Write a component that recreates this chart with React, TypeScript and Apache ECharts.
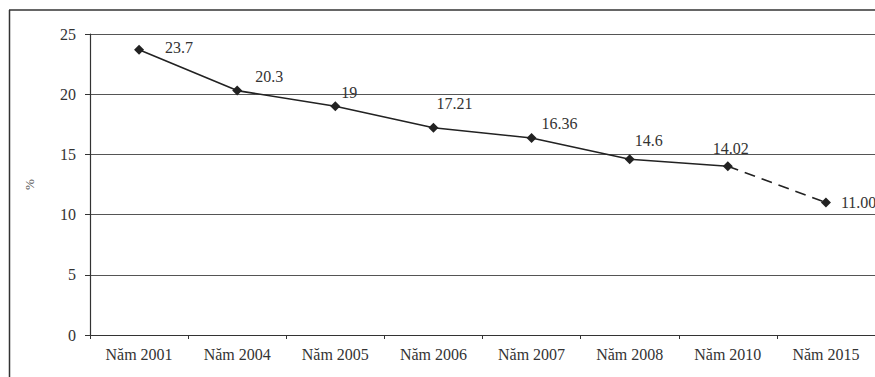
import React, { useEffect, useRef } from "react";
import * as echarts from "echarts";

const categories = ["Năm 2001", "Năm 2004", "Năm 2005", "Năm 2006", "Năm 2007", "Năm 2008", "Năm 2010", "Năm 2015"];
const actualValues = [23.7, 20.3, 19, 17.21, 16.36, 14.6, 14.02, null];
const forecastValues = [null, null, null, null, null, null, 14.02, 11.0];
const labelTexts = ["23.7", "20.3", "19", "17.21", "16.36", "14.6", "14.02", "11.00"];
const yTicks = [0, 5, 10, 15, 20, 25];

// label offsets (style only)
const labelOffsets: [number, number][] = [
  [16, -2], [8, -14], [-4, -14], [-7, -24], [0, -15], [-5, -19], [-25, -18], [5, 0],
];

const FONT = "Liberation Serif";
const INK = "#222";

export default function App() {
  const ref = useRef<HTMLDivElement>(null);
  useEffect(() => {
    const chart = echarts.init(ref.current!, null, { renderer: "svg" });
    const mkLabel = (i: number) => ({
      show: true,
      position: "right",
      offset: labelOffsets[i],
      formatter: () => labelTexts[i],
      fontFamily: FONT,
      fontSize: 16,
      color: "#333",
    });
    chart.setOption({
      animation: false,
      backgroundColor: "#fff",
      textStyle: { fontFamily: FONT },
      graphic: [
        { type: "line", shape: { x1: 9, y1: 10, x2: 875, y2: 10 }, style: { stroke: "#333", lineWidth: 1.5 } },
        { type: "line", shape: { x1: 9.5, y1: 10, x2: 9.5, y2: 377 }, style: { stroke: "#333", lineWidth: 1.5 } },
      ],
      grid: { left: 90, right: 0, top: 34, bottom: 42, containLabel: false },
      xAxis: {
        type: "category",
        data: categories,
        boundaryGap: true,
        axisLine: { lineStyle: { color: "#333", width: 1.2 } },
        axisTick: { show: true, length: 4, lineStyle: { color: "#333" } },
        axisLabel: { fontFamily: FONT, fontSize: 16, color: "#333", margin: 11 },
      },
      yAxis: {
        type: "value",
        min: yTicks[0],
        max: yTicks[yTicks.length - 1],
        interval: 5,
        name: "%",
        nameLocation: "middle",
        nameRotate: 90,
        nameGap: 54,
        nameTextStyle: { fontFamily: FONT, fontSize: 13, color: "#555" },
        axisLine: { show: true, lineStyle: { color: "#333", width: 1.2 } },
        axisTick: { show: true, length: 5, lineStyle: { color: "#333" } },
        axisLabel: { fontFamily: FONT, fontSize: 16, color: "#333", margin: 14 },
        splitLine: { show: true, lineStyle: { color: "#555", width: 1 } },
      },
      series: [
        {
          type: "line",
          data: actualValues.map((v, i) => (v == null ? null : { value: v, label: mkLabel(i) })),
          symbol: "diamond",
          symbolSize: 10,
          itemStyle: { color: INK },
          lineStyle: { color: INK, width: 1.6 },
          connectNulls: false,
          z: 3,
        },
        {
          type: "line",
          data: forecastValues.map((v, i) =>
            v == null ? null : i === forecastValues.length - 1 ? { value: v, label: mkLabel(i) } : { value: v, symbol: "none" }
          ),
          symbol: "diamond",
          symbolSize: 10,
          itemStyle: { color: INK },
          lineStyle: { color: INK, width: 1.6, type: [11, 7] },
          z: 2,
        },
      ],
    });
    return () => chart.dispose();
  }, []);
  return <div ref={ref} style={{ position: "fixed", left: 0, top: 0, width: 875, height: 377 }} />;
}
